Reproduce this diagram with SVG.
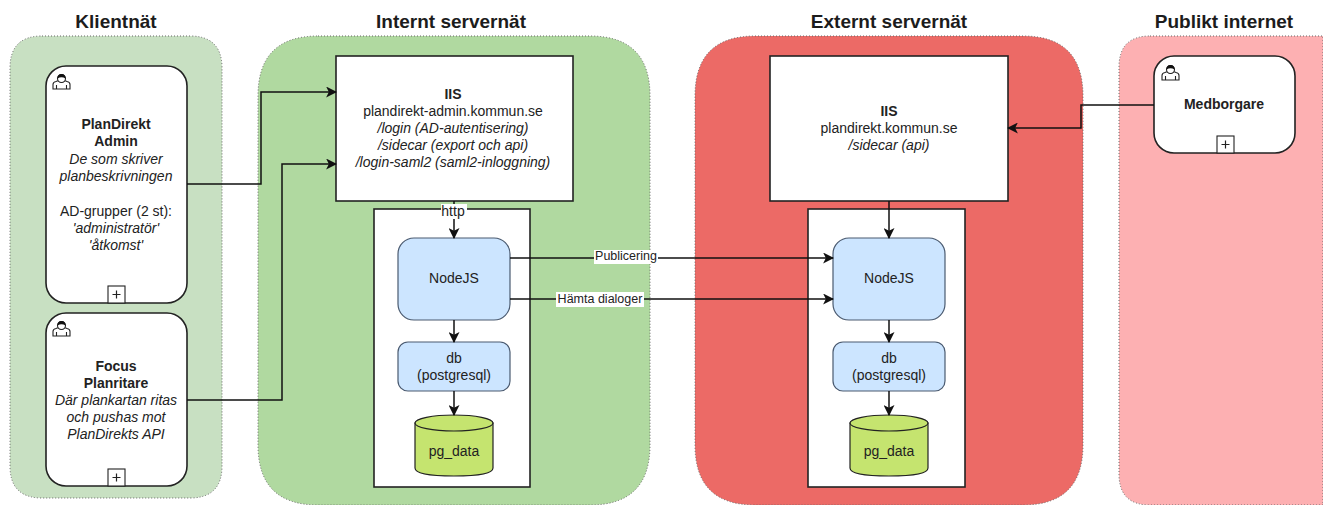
<svg xmlns="http://www.w3.org/2000/svg" width="1323" height="505" viewBox="0 0 1323 505">
<style>
text{font-family:"Liberation Sans",Arial,sans-serif;fill:#222;text-anchor:middle;font-size:14px}
.title{font-size:19px;font-weight:bold;fill:#1c1c1c}
.small{font-size:12.5px}
.b{font-weight:bold}.i{font-style:italic}
.zone{stroke:#666;stroke-width:1;stroke-dasharray:1 2}
.task{fill:#fff;stroke:#222;stroke-width:1.6}
.box{fill:#fff;stroke:#222;stroke-width:1.6}
.blue{fill:#cce5ff;stroke:#4a5a70;stroke-width:1.2}
.cyl{fill:#c5e46f;stroke:#222;stroke-width:1.2}
.conn{fill:none;stroke:#111;stroke-width:1.5;marker-end:url(#arr)}
.lbl{fill:#fff}
.ic{fill:none;stroke:#222;stroke-width:1.1}
.plus{fill:#fff;stroke:#222;stroke-width:1.1}
</style>
<defs>
<marker id="arr" viewBox="0 0 10 10" refX="9" refY="5" markerWidth="11" markerHeight="11" markerUnits="userSpaceOnUse" orient="auto"><path d="M0 0L10 5L0 10L2.5 5Z" fill="#111"/></marker>
<g id="user"><path class="ic" d="M0 15V10.500Q0 8 3 7.500L5.500 6.500H11.500L14 7.500Q17 8 17 10.500V15ZM3.500 15V11M13.500 15V11M5.500 6.500Q8.500 10 11.500 6.500"/><circle cx="8.500" cy="4.500" r="4" fill="#fff" stroke="#222" stroke-width="1.100"/><path d="M4.500 4.500Q4.500 0 8.500 0Q12.500 0 12.500 4.500Q8.500 2 4.500 4.500Z" fill="#111"/></g>
<g id="plus"><rect class="plus" x="-8" y="-17" width="17" height="17"/><path d="M-3.500 -8.500H4.500M0.500 -12.500V-4.500" stroke="#222" stroke-width="1.200"/></g>
</defs>
<rect width="1323" height="505" fill="#fff"/>

<g id="zone-klient"><path class="zone" fill="#c8e0c2" d="M42 36H190Q222 36 222 68V466Q222 498 190 498H42Q10 498 10 466V68Q10 36 42 36Z"/><text class="title" x="116" y="28">Klientnät</text></g>
<g id="zone-internt"><path class="zone" fill="#b0d9a0" d="M318 36H590Q650 36 650 96V445Q650 505 590 505H318Q258 505 258 445V96Q258 36 318 36Z"/><text class="title" x="451" y="28">Internt servernät</text></g>
<g id="zone-externt"><path class="zone" fill="#ec6a66" d="M755 36H1023Q1083 36 1083 96V445Q1083 505 1023 505H755Q695 505 695 445V96Q695 36 755 36Z"/><text class="title" x="889" y="28">Externt servernät</text></g>
<g id="zone-publikt"><path class="zone" fill="#fdb0b2" d="M1150 36H1323V505H1150Q1119 505 1119 474V67Q1119 36 1150 36Z"/><text class="title" x="1224" y="28">Publikt internet</text></g>

<g id="node-admin"><rect class="task" x="46" y="66" width="141" height="237" rx="20"/><use href="#user" x="53" y="74"/><use href="#plus" x="116" y="303"/>
<text class="b" x="116" y="129">PlanDirekt</text><text class="b" x="116" y="146">Admin</text><text class="i" x="116" y="164">De som skriver</text><text class="i" x="116" y="181">planbeskrivningen</text><text x="116" y="216">AD-grupper (2 st):</text><text class="i" x="116" y="233">'administratör'</text><text class="i" x="116" y="250">'åtkomst'</text></g>
<g id="node-focus"><rect class="task" x="46" y="313" width="141" height="173" rx="20"/><use href="#user" x="53" y="321"/><use href="#plus" x="116" y="486"/>
<text class="b" x="116" y="371">Focus</text><text class="b" x="116" y="388">Planritare</text><text class="i" x="116" y="405">Där plankartan ritas</text><text class="i" x="116" y="422">och pushas mot</text><text class="i" x="116" y="439">PlanDirekts API</text></g>
<g id="node-medborgare"><rect class="task" x="1154" y="56" width="141" height="97" rx="20"/><use href="#user" x="1162" y="65"/><use href="#plus" x="1225" y="153"/><text class="b" x="1224" y="109">Medborgare</text></g>

<g id="node-iis-int"><rect class="box" x="336" y="56" width="237" height="145"/><text class="b" x="453" y="99">IIS</text><text x="453" y="116">plandirekt-admin.kommun.se</text><text class="i" x="453" y="133">/login (AD-autentisering)</text><text class="i" x="453" y="150">/sidecar (export och api)</text><text class="i" x="453" y="167">/login-saml2 (saml2-inloggning)</text></g>
<g id="node-iis-ext"><rect class="box" x="770" y="56" width="238" height="145"/><text class="b" x="889" y="116">IIS</text><text x="889" y="133">plandirekt.kommun.se</text><text class="i" x="889" y="150">/sidecar (api)</text></g>
<g id="node-cont-int"><rect class="box" x="374" y="209" width="156" height="278"/></g>
<g id="node-cont-ext"><rect class="box" x="808" y="209" width="157" height="278"/></g>

<g id="node-node-int"><rect class="blue" x="398" y="238" width="112" height="82" rx="16"/><text x="454" y="283">NodeJS</text></g>
<g id="node-db-int"><rect class="blue" x="398" y="342" width="112" height="49" rx="10"/><text x="454" y="363">db</text><text x="454" y="380">(postgresql)</text></g>
<g id="node-pg-int"><path class="cyl" d="M415 423V468Q415 476 454 476Q493 476 493 468V423Z"/><ellipse class="cyl" cx="454" cy="423" rx="39" ry="8"/><text x="454" y="456">pg_data</text></g>
<g id="node-node-ext"><rect class="blue" x="833" y="238" width="112" height="82" rx="16"/><text x="889" y="283">NodeJS</text></g>
<g id="node-db-ext"><rect class="blue" x="833" y="342" width="112" height="49" rx="10"/><text x="889" y="363">db</text><text x="889" y="380">(postgresql)</text></g>
<g id="node-pg-ext"><path class="cyl" d="M850 423V468Q850 476 889 476Q928 476 928 468V423Z"/><ellipse class="cyl" cx="889" cy="423" rx="39" ry="8"/><text x="889" y="456">pg_data</text></g>

<g id="connectors">
<path class="conn" d="M187 184H261V92H336"/>
<path class="conn" d="M187 400H282V164H336"/>
<path class="conn" d="M454 201V238"/>
<path class="conn" d="M454 320V342"/>
<path class="conn" d="M454 391V415"/>
<path class="conn" d="M510 258H833"/>
<path class="conn" d="M510 299H833"/>
<path class="conn" d="M889 201V238"/>
<path class="conn" d="M889 320V342"/>
<path class="conn" d="M889 391V415"/>
<path class="conn" d="M1154 105H1081V128H1008"/>
<rect class="lbl" x="441" y="204" width="26" height="15"/><text x="453" y="216">http</text>
<rect class="lbl" x="594" y="250" width="64" height="14"/><text class="small" x="626" y="260">Publicering</text>
<rect class="lbl" x="556" y="292" width="88" height="15"/><text class="small" x="600" y="303">Hämta dialoger</text>
</g>
</svg>
